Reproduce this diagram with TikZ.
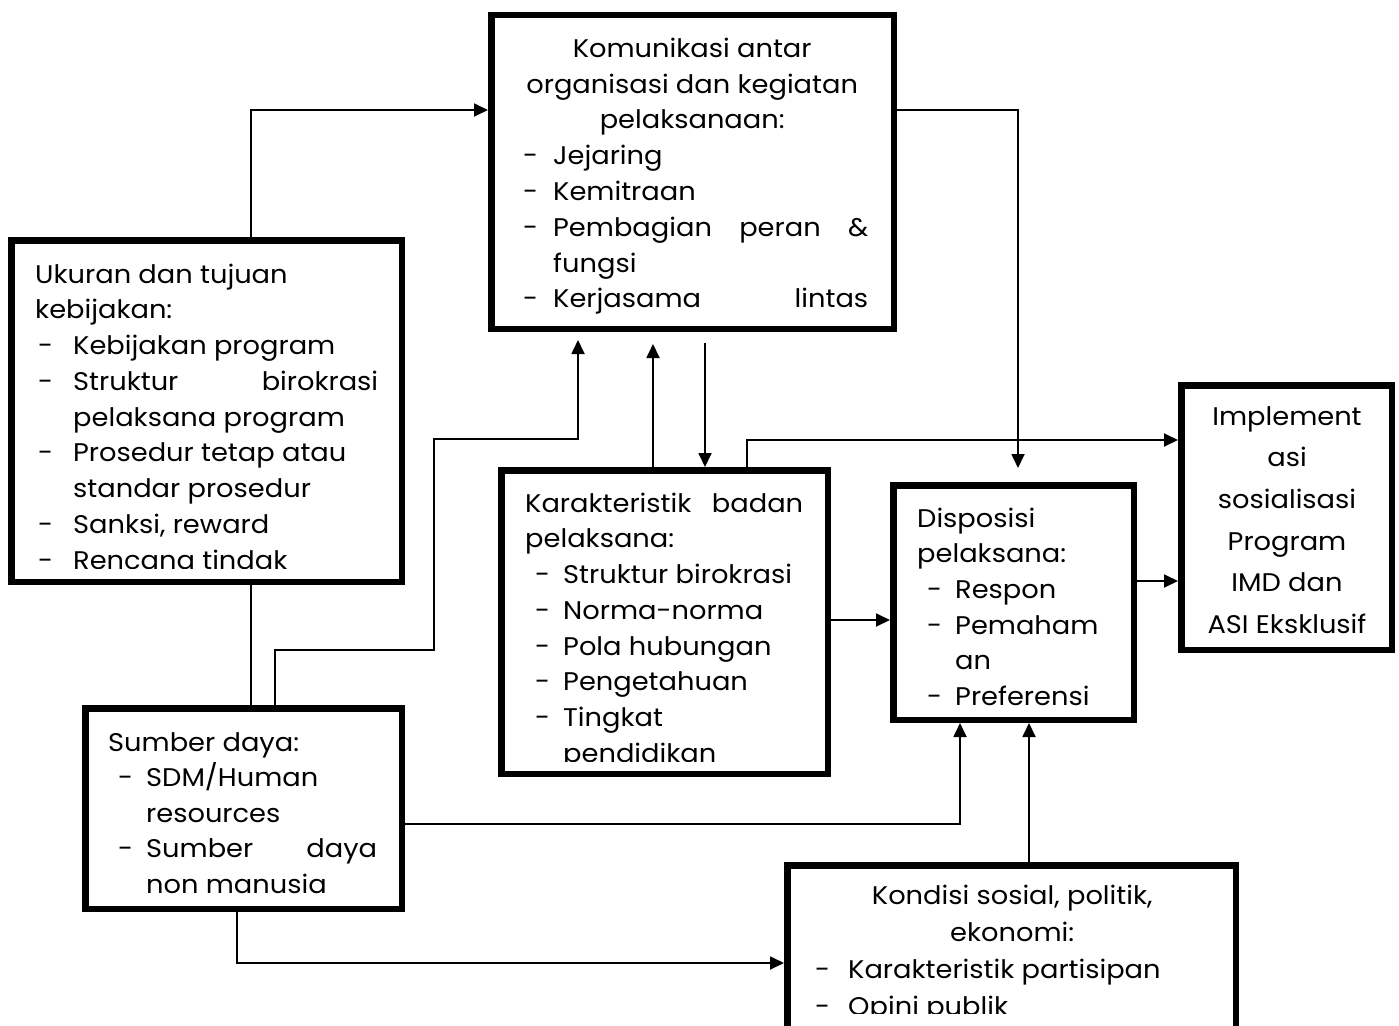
\documentclass[tikz,border=0pt]{standalone}
\usepackage{fontspec}
\setmainfont{Poppins}[FakeStretch=1.07]
\usetikzlibrary{arrows.meta}

% dash of a list item: left offset, width of the dash column
\newcommand\itm[2]{\hspace*{#1}\makebox[#2][l]{-}}
% continuation of a list item
\newcommand\cont[1]{\hspace*{#1}}
% strut that fixes the top of the first line 26pt above its baseline
\newcommand\topstrut{\rule{0pt}{26pt}}

\tikzset{
  frame/.style={draw, rectangle, line width=6.5pt, inner sep=0pt, anchor=north west},
  conn/.style={line width=1.8pt},
  arr/.style={conn, -{Triangle[length=14pt,width=13pt]}},
  txt/.style={anchor=north west, inner sep=0pt, align=left,
              font=\fontsize{25.5}{35.8}\selectfont},
}

\begin{document}
\begin{tikzpicture}[x=1pt,y=-1pt]
\useasboundingbox (0,0) rectangle (1399,1025);
\fill[white] (0,0) rectangle (1399,1025);
\clip (0,0) rectangle (1399,1025);

% ---------- boxes ----------
\node[frame, minimum width=402.5, minimum height=313.5] (K) at (488,12) {};
\node[frame, minimum width=390.5, minimum height=341.5] (U) at (8,237) {};
\node[frame, minimum width=326.5, minimum height=303.5] (C) at (498,467) {};
\node[frame, minimum width=240.5, minimum height=234.5] (D) at (890,482) {};
\node[frame, minimum width=210.5, minimum height=264.5] (I) at (1178,382) {};
\node[frame, minimum width=316.5, minimum height=200.5] (S) at (82,705) {};
\node[frame, minimum width=448.5, minimum height=260]   (P) at (784,862) {};

% ---------- texts, clipped to the text area of each box ----------
\begin{scope}
\clip ([xshift=6.5pt,yshift=-6.5pt]K.north west) rectangle ([xshift=-6.5pt,yshift=6.5pt]K.south east);
\node[txt] (Kt) at (516,31) {%
\topstrut\makebox[352pt]{Komunikasi antar}\\
\makebox[352pt]{organisasi dan kegiatan}\\
\makebox[352pt]{pelaksanaan:}\\
\itm{7pt}{30pt}Jejaring\\
\itm{7pt}{30pt}Kemitraan\\
\makebox[352pt][l]{\itm{7pt}{30pt}Pembagian\hfill peran\hfill \&}\\
\cont{37pt}fungsi\\
\makebox[352pt][l]{\itm{7pt}{30pt}Kerjasama\hfill lintas}};
\end{scope}

\begin{scope}
\clip ([xshift=6.5pt,yshift=-6.5pt]U.north west) rectangle ([xshift=-6.5pt]U.east |- 0,568);
\node[txt, font=\fontsize{25.5}{35.75}\selectfont] (Ut) at (35,257) {%
\topstrut Ukuran dan tujuan\\
kebijakan:\\
\itm{3pt}{35pt}Kebijakan program\\
\makebox[343pt][l]{\itm{3pt}{35pt}Struktur\hfill birokrasi}\\
\cont{38pt}pelaksana program\\
\itm{3pt}{35pt}Prosedur tetap atau\\
\cont{38pt}standar prosedur\\
\itm{3pt}{35pt}Sanksi, reward\\
\itm{3pt}{35pt}Rencana tindak};
\end{scope}

\begin{scope}
\clip ([xshift=6.5pt,yshift=-6.5pt]C.north west) rectangle ([xshift=-6.5pt]C.east |- 0,761);
\node[txt, font=\fontsize{25.5}{35.7}\selectfont] (Ct) at (525,486) {%
\topstrut\makebox[278pt][l]{Karakteristik\hfill badan}\\
pelaksana:\\
\itm{10pt}{28pt}Struktur birokrasi\\
\itm{10pt}{28pt}Norma-norma\\
\itm{10pt}{28pt}Pola hubungan\\
\itm{10pt}{28pt}Pengetahuan\\
\itm{10pt}{28pt}Tingkat\\
\cont{38pt}pendidikan};
\end{scope}

\begin{scope}
\clip ([xshift=6.5pt,yshift=-6.5pt]D.north west) rectangle ([xshift=-6.5pt,yshift=6.5pt]D.south east);
\node[txt, font=\fontsize{25.5}{35.6}\selectfont] (Dt) at (917,501) {%
\topstrut Disposisi\\
pelaksana:\\
\itm{10pt}{28pt}Respon\\
\itm{10pt}{28pt}Pemaham\\
\cont{38pt}an\\
\itm{10pt}{28pt}Preferensi};
\end{scope}

\node[txt, anchor=north, align=center, font=\fontsize{25.5}{41.6}\selectfont] (It) at (1287,399) {%
\topstrut Implement\\
asi\\
sosialisasi\\
Program\\
IMD dan\\
ASI Eksklusif};

\begin{scope}
\clip ([xshift=6.5pt,yshift=-6.5pt]S.north west) rectangle ([xshift=-6.5pt,yshift=6.5pt]S.south east);
\node[txt, font=\fontsize{25.5}{35.5}\selectfont] (St) at (108,725) {%
\topstrut Sumber daya:\\
\itm{10pt}{28pt}SDM/Human\\
\cont{38pt}resources\\
\makebox[269pt][l]{\itm{10pt}{28pt}Sumber\hfill daya}\\
\cont{38pt}non manusia};
\end{scope}

\begin{scope}
\clip ([xshift=6.5pt,yshift=-6.5pt]P.north west) rectangle ([xshift=-6.5pt]P.east |- 0,1013);
\node[txt, font=\fontsize{25.5}{37}\selectfont] (Pt) at (815,878) {%
\topstrut\makebox[394pt]{Kondisi sosial, politik,}\\
\makebox[394pt]{ekonomi:}\\
\itm{0pt}{33pt}Karakteristik partisipan\\
\itm{0pt}{33pt}Opini publik};
\end{scope}

% ---------- connectors ----------
\coordinate (kb1) at (578,340);
\coordinate (kb2) at (653,344);
\coordinate (kb3) at (705,343);
\coordinate (dtop) at (1018,468);

\draw[arr] (U.north -| 251,0) |- (K.west |- 0,110);
\draw[arr] (K.east |- 0,110) -| (dtop);
\draw[conn] (U.south -| 251,0) -- (S.north -| 251,0);
\draw[arr] (S.north -| 275,0) |- (434,650) -- (434,439) -| (kb1);
\draw[arr] (C.north -| kb2) -- (kb2);
\draw[arr] (kb3) -- (C.north -| kb3);
\draw[arr] (C.north -| 747,0) |- (I.west |- 0,440);
\draw[arr] (C.east |- 0,620) -- (D.west |- 0,620);
\draw[arr] (D.east |- 0,581) -- (I.west |- 0,581);
\draw[arr] (S.east |- 0,824) -| (D.south -| 960,0);
\draw[arr] (P.north -| 1029,0) -- (D.south -| 1029,0);
\draw[arr] (S.south -| 237,0) |- (P.west |- 0,963);
\end{tikzpicture}
\end{document}
